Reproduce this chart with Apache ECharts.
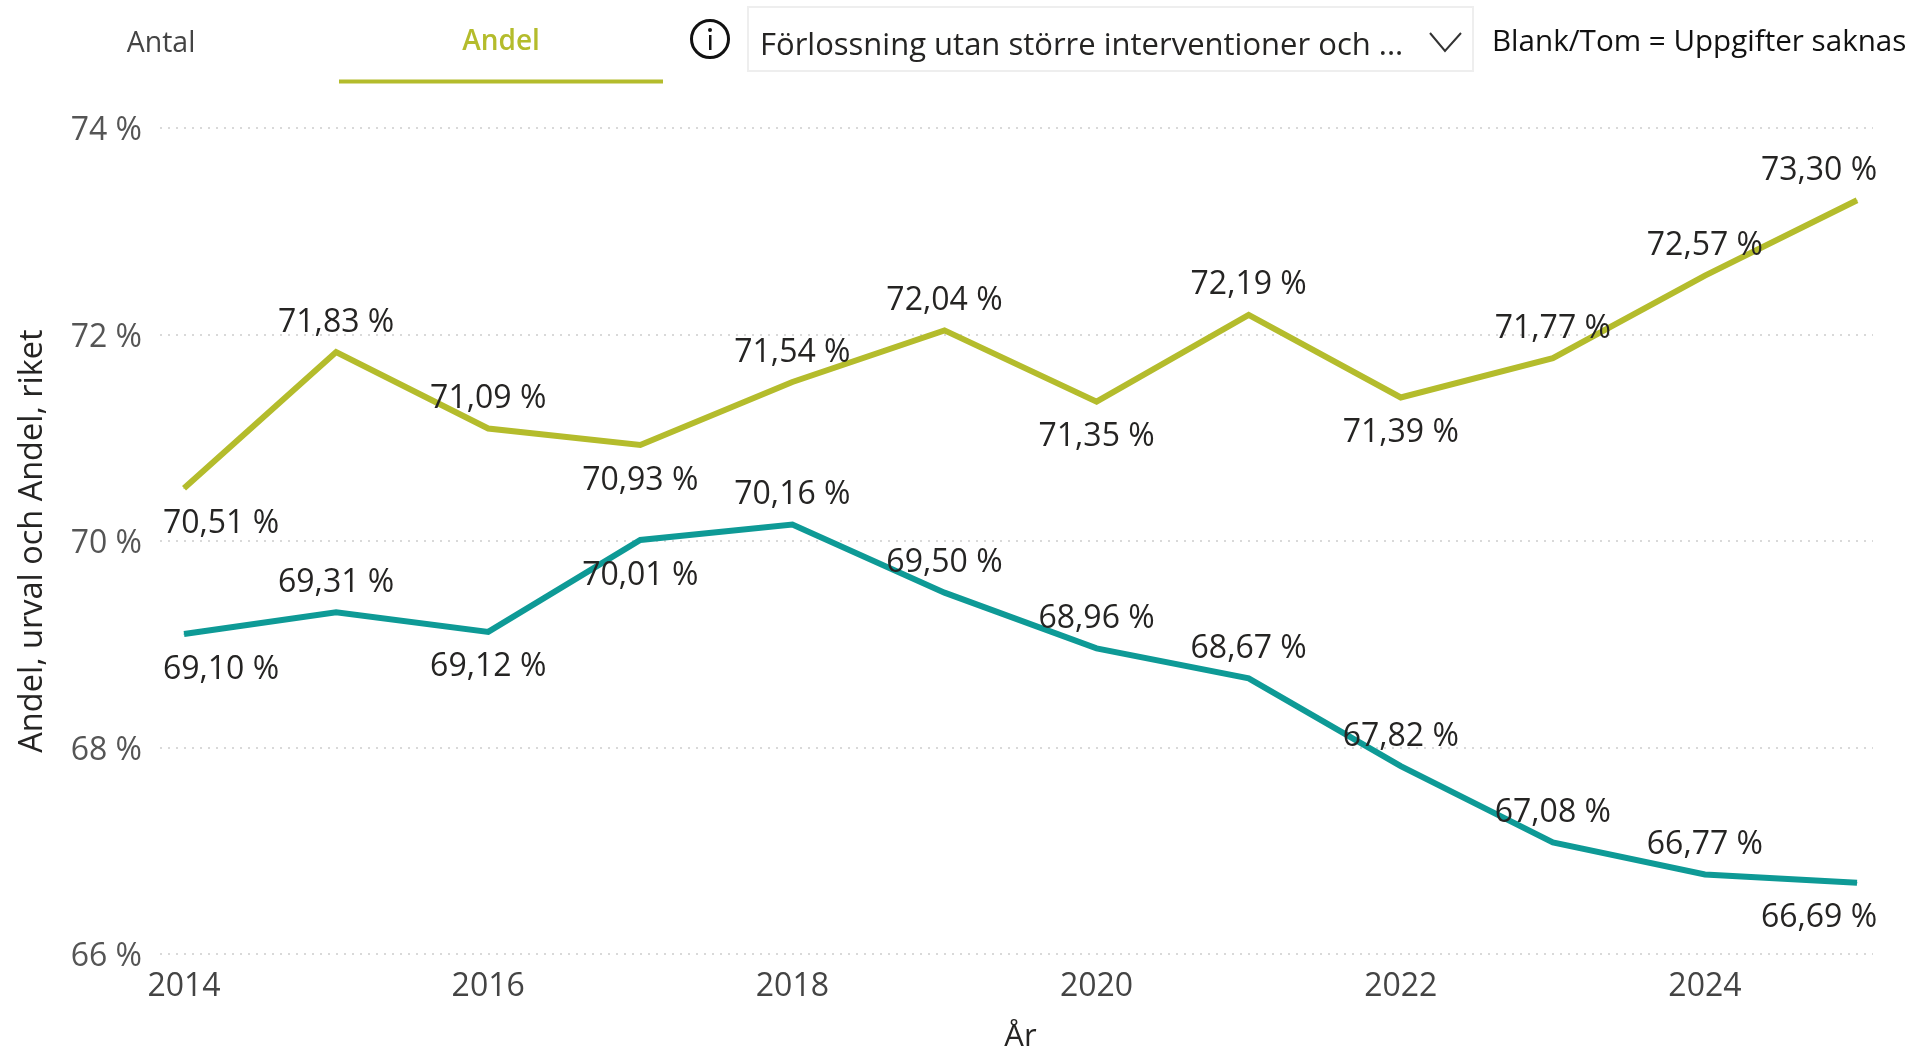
<!DOCTYPE html>
<html><head><meta charset="utf-8">
<style>html,body{margin:0;padding:0;background:#fff}#c{width:1911px;height:1048px}</style>
<script src="https://cdn.jsdelivr.net/npm/echarts@6/dist/echarts.min.js"></script></head>
<body><div id="c"></div>
<script>
const years=[2014,2015,2016,2017,2018,2019,2020,2021,2022,2023,2024,2025];
const urval=[70.51,71.83,71.09,70.93,71.54,72.04,71.35,72.19,71.39,71.77,72.57,73.30];
const riket=[69.10,69.31,69.12,70.01,70.16,69.50,68.96,68.67,67.82,67.08,66.77,66.69];
const urvalBelow=[2014,2017,2020,2022];
const riketBelow=[2014,2016,2017,2025];
const xTicks=[2014,2016,2018,2020,2022,2024];
const yTitle='Andel, urval och Andel, riket';
const xTitle='År';
const FONT='"Open Sans"';
const fmt=v=>v.toFixed(2).replace('.',',')+' %';
function pts(vals,below){
  return vals.map((v,i)=>{
    const lo=below.includes(years[i]);
    return {value:[years[i],v],label:{position:lo?'bottom':'top',distance:lo?19:13}};
  });
}
function line(name,vals,below,color){
  return {name,type:'line',data:pts(vals,below),showSymbol:true,symbol:'circle',symbolSize:1,
    lineStyle:{color,width:6,cap:'butt',join:'miter'},itemStyle:{color},
    label:{show:true,color:'#252423',fontFamily:FONT,fontSize:32,
      formatter:p=>fmt(p.value[1])},
    labelLayout:p=>{
      const i=p.dataIndex;
      return {hideOverlap:false,dx:i===0?37:(i===years.length-1?-38:0)};
    },
    animation:false,z:2};
}
const chart=echarts.init(document.getElementById('c'),null,{renderer:'canvas'});
const txt=(x,y,text,fs,fill,align='left',weight=400)=>({type:'text',x,y,
  style:{text,fontFamily:FONT,fontSize:fs,fill,align,verticalAlign:'middle',fontWeight:weight}});
chart.setOption({
  backgroundColor:'#fff',animation:false,
  grid:{left:160,right:38,top:128,bottom:94,containLabel:false,outerBoundsMode:'none'},
  xAxis:{type:'value',min:2013.842,max:2025.105,
    name:xTitle,nameLocation:'middle',nameGap:68,
    nameTextStyle:{fontFamily:FONT,fontSize:31,color:'#252423',padding:[0,0,0,8]},
    axisLine:{show:false},axisTick:{show:false},splitLine:{show:false},
    axisLabel:{customValues:xTicks,formatter:v=>String(v),margin:17,fontFamily:FONT,fontSize:32,color:'#444',hideOverlap:false}},
  yAxis:{type:'value',min:66,max:74,interval:2,
    name:yTitle,nameLocation:'middle',nameGap:111,
    nameTextStyle:{fontFamily:FONT,fontSize:32.5,color:'#252423'},
    axisLine:{show:false},axisTick:{show:false},
    splitLine:{show:true,lineStyle:{color:'#d9d9d9',type:[2,6],width:2}},
    axisLabel:{formatter:v=>'{a|'+v+' %}',margin:18,
      rich:{a:{fontFamily:FONT,fontSize:32,color:'#555',padding:[6,0,0,0]}}}},
  series:[line('Andel, urval',urval,urvalBelow,'#B4BC2C'),line('Andel, riket',riket,riketBelow,'#0E9A96')],
  graphic:{elements:[
    txt(161,44,'Antal',28.5,'#444','center'),
    txt(501,42,'Andel',28,'#B4BC2C','center',600),
    {type:'rect',shape:{x:339,y:79.5,width:324,height:4},style:{fill:'#B4BC2C'}},
    {type:'circle',shape:{cx:710,cy:39,r:18.5},style:{fill:'none',stroke:'#111',lineWidth:3}},
    {type:'circle',shape:{cx:710,cy:30,r:2},style:{fill:'#111'}},
    {type:'rect',shape:{x:709,y:35,width:2.5,height:15},style:{fill:'#111'}},
    {type:'rect',shape:{x:748,y:7,width:725,height:64},style:{fill:'#fff',stroke:'#eeeeee',lineWidth:2}},
    txt(760,46,'Förlossning utan större interventioner och ...',31,'#252423'),
    {type:'polyline',shape:{points:[[1430,33],[1445,51],[1461,33]]},style:{fill:'none',stroke:'#333',lineWidth:2}},
    txt(1492,43,'Blank/Tom = Uppgifter saknas',29.6,'#111')
  ]}
});
</script></body></html>
